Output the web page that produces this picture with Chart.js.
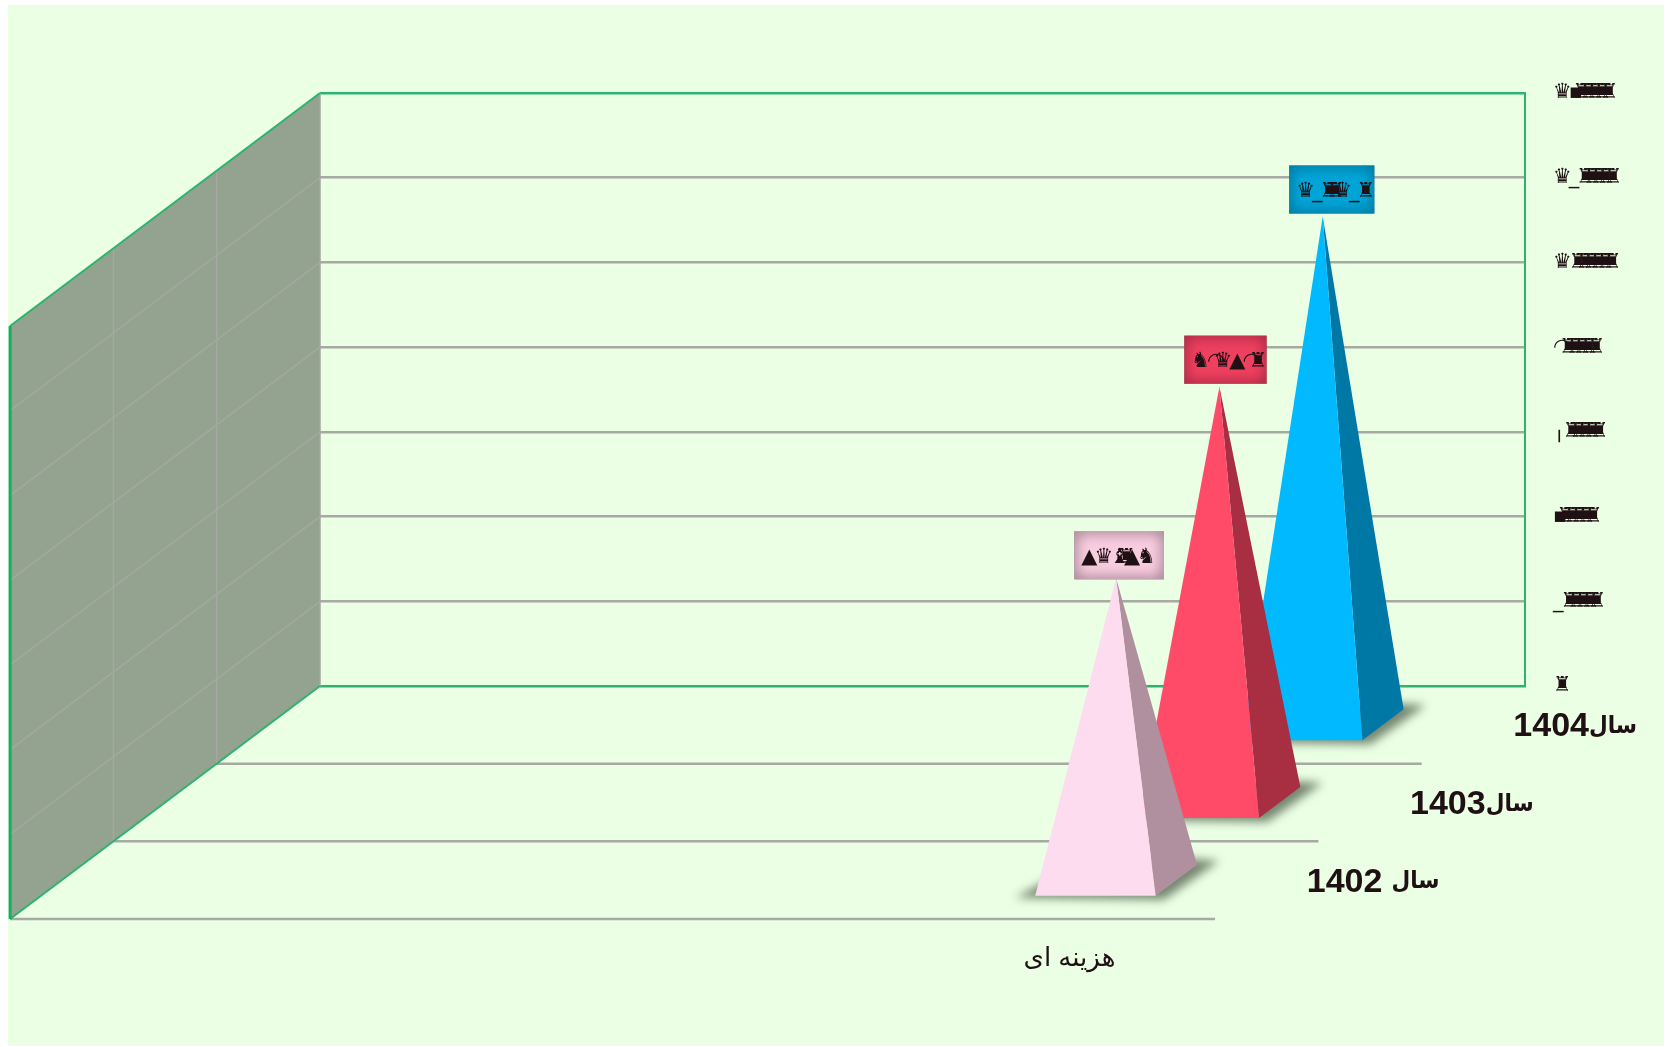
<!DOCTYPE html>
<html>
<head>
<meta charset="utf-8">
<script src="https://cdn.jsdelivr.net/npm/chart.js@4"></script>
<style>
  html, body { margin: 0; background: #fff; }
  canvas { display: block; }
</style>
</head>
<body>
<canvas id="chart" width="1673" height="1047"></canvas>
<script>
const categories = ['', '', '', 'هزینه ای'];
const years = ['سال 1402', 'سال1403', 'سال1404'];
const cost1402 = [null, null, null, 713079];
const cost1403 = [null, null, null, 981780];
const cost1404 = [null, null, null, 1200120];
const tickStep = 200000;
const tickMax = 1400000;

const faceColors = ['#FDDCF0', '#FF4A68', '#00B9FF'];
const sideColors = ['#B0909E', '#A82E42', '#0078A6'];
const boxColors = ['#F9CDE0', '#F04060', '#00A5D8'];
const boxEdges = ['#5f4a55', '#6a1a2c', '#00506e'];
const boxLift = [-1, 3, 3];

// the source chart shows its numbers in a symbol font, digit by digit.
// the spaces after some glyphs keep them clear of the tightly packed zeros
const digitGlyphs = {
  0: '♜', 1: '♛\u2003', 2: '_\u2003', 3: '♝', 4: '▪\u2007', 5: '♝',
  6: '╷\u2003', 7: '▲\u2003', 8: '◠', 9: '♞\u2003'
};
const toGlyphs = v => String(v).split('').map(d => digitGlyphs[d]).join('');
const glyphSpacing = '-12px';

// oblique projection: one row of depth moves a point this far on screen
const rowDx = 103.3;
const rowDy = 77.67;
const rows = 3;
const textColor = '#1E1013';
const wallGreen = '#2DB36F';
const gridGray = '#A8A8A4';

const project = (chart, catIndex, value, depth, offset) => {
  const x = chart.scales.x.getPixelForValue(catIndex) + (offset || 0);
  const y = chart.scales.y.getPixelForValue(value);
  return { x: x - (rows - depth) * rowDx, y: y + (rows - depth) * rowDy };
};

const line = (ctx, a, b, color, width) => {
  ctx.strokeStyle = color;
  ctx.lineWidth = width;
  ctx.beginPath();
  ctx.moveTo(a.x, a.y);
  ctx.lineTo(b.x, b.y);
  ctx.stroke();
};

const poly = (ctx, pts, color) => {
  ctx.fillStyle = color;
  ctx.beginPath();
  pts.forEach((p, i) => (i ? ctx.lineTo(p.x, p.y) : ctx.moveTo(p.x, p.y)));
  ctx.closePath();
  ctx.fill();
};

const panelPlugin = {
  id: 'panel',
  beforeDraw(chart) {
    const ctx = chart.ctx;
    ctx.fillStyle = '#EAFFE4';
    ctx.fillRect(8, 5, 1656, 1041);
    // the axis draws its tick text with this spacing
    ctx.letterSpacing = glyphSpacing;
  }
};

const wallPlugin = {
  id: 'wall',
  beforeDatasetsDraw(chart) {
    const ctx = chart.ctx;
    const { left, right } = chart.chartArea;
    const y = chart.scales.y;
    const at = (px, value, depth) => ({
      x: px - (rows - depth) * rowDx,
      y: y.getPixelForValue(value) + (rows - depth) * rowDy
    });
    ctx.save();
    ctx.letterSpacing = '0px';
    poly(ctx, [at(left, tickMax, 0), at(left, tickMax, rows), at(left, 0, rows), at(left, 0, 0)], '#94A38F');
    y.ticks.forEach(t => {
      if (t.value !== 0 && t.value !== tickMax) line(ctx, at(left, t.value, 0), at(left, t.value, rows), '#A3A8A0', 1.5);
    });
    for (let d = 1; d < rows; d++) line(ctx, at(left, 0, d), at(left, tickMax, d), '#A3A8A0', 1.5);
    line(ctx, at(left, 0, rows), at(left, tickMax, rows), '#A3A8A0', 1.5);
    for (let d = 0; d < rows; d++) line(ctx, at(left, 0, d), at(right, 0, d), gridGray, 2.5);
    line(ctx, at(left, tickMax, 0), at(left, tickMax, rows), wallGreen, 2);
    line(ctx, at(left, 0, 0), at(left, 0, rows), wallGreen, 2);
    line(ctx, at(left, 0, 0), at(left, tickMax, 0), '#17AE62', 3);
    ctx.restore();
  },
  afterDatasetsDraw(chart) {
    const ctx = chart.ctx;
    const halfBar = chart.scales.x.width / categories.length * 0.2;
    ctx.save();
    ctx.letterSpacing = '0px';
    // back row first so the front pyramids cover it
    for (let s = chart.data.datasets.length - 1; s >= 0; s--) {
      chart.data.datasets[s].data.forEach((v, c) => {
        if (v === null) return;
        const fl = project(chart, c, 0, s + 0.3, -halfBar);
        const fr = project(chart, c, 0, s + 0.3, halfBar);
        const br = project(chart, c, 0, s + 0.7, halfBar);
        const bl = project(chart, c, 0, s + 0.7, -halfBar);
        const apex = project(chart, c, v, s + 0.5);
        ctx.save();
        ctx.filter = 'blur(5px)';
        poly(ctx, [
          { x: fl.x - 20, y: fl.y + 2 }, { x: fr.x + 8, y: fr.y + 4 },
          { x: br.x + 22, y: br.y - 4 }, { x: br.x - 10, y: br.y - 6 }, bl
        ], 'rgba(80,95,75,0.75)');
        ctx.restore();
        poly(ctx, [fr, br, apex], sideColors[s]);
        poly(ctx, [fl, fr, apex], faceColors[s]);
        drawValueBox(ctx, apex, v, s);
      });
    }
    ctx.restore();
    drawAxisText(chart);
  }
};

function drawValueBox(ctx, apex, value, s) {
  const text = toGlyphs(value);
  ctx.save();
  ctx.font = '21px "DejaVu Sans"';
  ctx.letterSpacing = glyphSpacing;
  const w = ctx.measureText(text).width + 18;
  const h = 48;
  const x = apex.x + 3 + s * 3 - w / 2;
  const yTop = apex.y - boxLift[s] - h;
  ctx.fillStyle = boxColors[s];
  ctx.fillRect(x, yTop, w, h);
  ctx.save();
  ctx.beginPath();
  ctx.rect(x, yTop, w, h);
  ctx.clip();
  ctx.shadowColor = boxEdges[s];
  ctx.shadowBlur = 14;
  ctx.strokeStyle = boxEdges[s];
  ctx.lineWidth = 6;
  ctx.strokeRect(x - 3, yTop - 3, w + 6, h + 6);
  ctx.restore();
  ctx.fillStyle = textColor;
  ctx.textAlign = 'left';
  ctx.textBaseline = 'middle';
  ctx.fillText(text, x + 7, yTop + h / 2 + 2);
  ctx.restore();
}

function drawAxisText(chart) {
  const ctx = chart.ctx;
  const right = chart.chartArea.right;
  const floorY = chart.scales.y.getPixelForValue(0);
  ctx.save();
  ctx.letterSpacing = '0px';
  ctx.fillStyle = textColor;
  ctx.textBaseline = 'middle';
  ctx.textAlign = 'left';
  years.forEach((label, s) => {
    // digits and the word come from different fonts, so they are sized apart
    const word = label.replace(/[\s\d]/g, '');
    const digits = label.replace(/\D/g, '');
    const gap = label.includes(' ') ? 9 : 0;
    const depthLeft = rows - s - 0.5;
    const x = right - depthLeft * rowDx + 40;
    const y = floorY + depthLeft * rowDy + 2;
    ctx.font = 'bold 34px "Liberation Sans"';
    ctx.fillText(digits, x, y);
    const digitsWidth = ctx.measureText(digits).width;
    ctx.font = 'bold 24px "DejaVu Sans Condensed"';
    ctx.fillText(word, x + digitsWidth + gap, y);
  });
  ctx.font = '26px "Liberation Sans", "DejaVu Sans"';
  ctx.textAlign = 'center';
  categories.forEach((label, c) => {
    if (!label) return;
    const p = project(chart, c, 0, 0);
    ctx.fillText(label, p.x + 5, p.y + 40);
  });
  ctx.restore();
}

new Chart(document.getElementById('chart'), {
  type: 'bar',
  data: {
    labels: categories,
    datasets: [
      { label: years[0], data: cost1402, backgroundColor: 'transparent' },
      { label: years[1], data: cost1403, backgroundColor: 'transparent' },
      { label: years[2], data: cost1404, backgroundColor: 'transparent' }
    ]
  },
  options: {
    responsive: false,
    animation: false,
    layout: { padding: { left: 320, top: 93, right: 0, bottom: 0 } },
    plugins: { legend: { display: false }, tooltip: { enabled: false } },
    scales: {
      x: {
        grid: { display: false },
        border: { display: false },
        ticks: { display: false },
        afterFit: s => { s.height = 361; }
      },
      y: {
        position: 'right',
        min: 0,
        max: tickMax,
        grid: {
          drawTicks: false,
          lineWidth: 2.5,
          color: c => (c.tick.value === 0 || c.tick.value === tickMax ? wallGreen : gridGray)
        },
        border: { display: true, color: wallGreen, width: 2 },
        ticks: {
          stepSize: tickStep,
          padding: 28,
          color: textColor,
          font: { family: '"DejaVu Sans"', size: 21 },
          callback: v => toGlyphs(v)
        },
        afterFit: s => { s.width = 148; }
      }
    }
  },
  plugins: [panelPlugin, wallPlugin]
});
</script>
</body>
</html>
